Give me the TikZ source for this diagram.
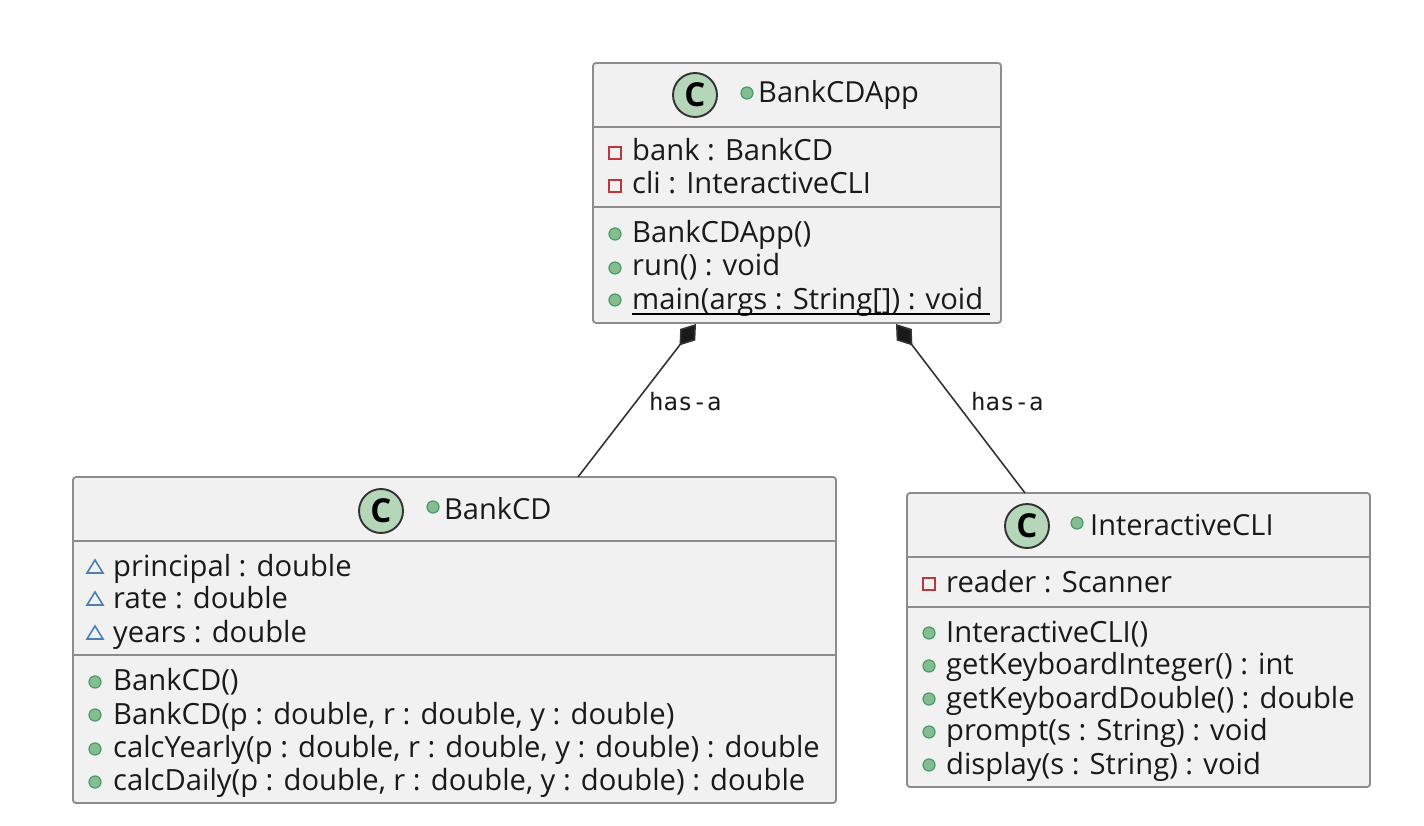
\documentclass[tikz,border=0pt]{standalone}
\usepackage{fontspec}
\setmainfont{Open Sans}
\newfontfamily\labelfont{DejaVu Sans Mono}
\usetikzlibrary{arrows.meta,calc}
\definecolor{boxbg}{HTML}{F1F1F1}
\definecolor{boxln}{HTML}{8C8C8C}
\definecolor{ink}{HTML}{1A1A1A}
\definecolor{badgefill}{HTML}{B5D6B8}
\definecolor{dotln}{HTML}{4C9A68}
\definecolor{dotfill}{HTML}{84BE90}
\definecolor{privred}{HTML}{C0353A}
\definecolor{pkgblue}{HTML}{4A7FB5}
\tikzset{
  classbox/.style={draw=boxln,line width=1.8pt,fill=boxbg,rounded corners=3pt,anchor=north west,inner sep=0pt,outer sep=0pt,minimum width=#1},
  sepline/.style={draw=boxln,line width=1.6pt},
  member/.style={anchor=base west,inner sep=0pt,text=ink,font=\fontsize{29.2}{29.2}\selectfont},
  title/.style={anchor=base west,inner sep=0pt,text=ink,font=\fontsize{29}{29}\selectfont},
  edgelabel/.style={anchor=base west,inner sep=0pt,text=ink,font=\labelfont\fontsize{24}{24}\selectfont},
  cbadge/.style={circle,draw=black!80,line width=1.9pt,fill=badgefill,minimum size=44pt,inner sep=0pt,text=black,font=\fontsize{33}{33}\selectfont\bfseries},
  pubdot/.style={circle,draw=dotln,line width=1.2pt,fill=dotfill,minimum size=12pt,inner sep=0pt},
  privsq/.style={rectangle,draw=privred,line width=1.6pt,fill=none,minimum size=12pt,inner sep=0pt},
  pkgtri/.style={draw=pkgblue,line width=1.6pt,line join=miter},
  compose/.style={draw=black!80,line width=1.6pt,{Diamond[length=27pt,width=19pt,fill=black!90]}-},
}
\newcommand{\triat}[2]{\draw[pkgtri] (#1-8,#2+6) -- (#1+8,#2+6) -- (#1,#2-7) -- cycle;}
\begin{document}
\begin{tikzpicture}[x=1pt,y=-1pt]
\useasboundingbox (0,0) rectangle (1424,826);
% boxes
\node[classbox=408pt,minimum height=260pt] (app) at (593,63) {};
\node[classbox=763pt,minimum height=326pt] (cd) at (73,477) {};
\node[classbox=463pt,minimum height=294pt] (cli) at (907,493) {};
% separators
\draw[sepline] (593,127) -- (1001,127) (593,207) -- (1001,207);
\draw[sepline] (73,541) -- (836,541) (73,655) -- (836,655);
\draw[sepline] (907,557) -- (1370,557) (907,607) -- (1370,607);
% connectors
\draw[compose] ($(app.south west)+(103,1)$) -- ($(cd.north west)+(505,0)$);
\draw[compose] ($(app.south west)+(303,1)$) -- ($(cli.north west)+(118,0)$);
\node[edgelabel] (la) at (649,410) {has-a};
\node[edgelabel] (lb) at (971,410) {has-a};
% BankCDApp
\node[cbadge] (c1) at (695,95) {C};
\node[pubdot] (t1) at (747,93) {};
\node[title] (n1) at (758,103) {BankCDApp};
\node[privsq] (m1a) at (615,153) {};
\node[member] (x1a) at (632,161) {bank : BankCD};
\node[privsq] (m1b) at (615,186) {};
\node[member] (x1b) at (632,194) {cli : InteractiveCLI};
\node[pubdot] (m1c) at (615,234) {};
\node[member] (x1c) at (632,243) {BankCDApp()};
\node[pubdot] (m1d) at (615,268) {};
\node[member] (x1d) at (632,276) {run() : void};
\node[pubdot] (m1e) at (615,300) {};
\node[member] (x1e) at (632,309) {main(args : String[]) : void};
\draw[black,line width=1.6pt] (632,314) -- (990,314);
% BankCD
\node[cbadge] (c2) at (381,511) {C};
\node[pubdot] (t2) at (433,507) {};
\node[title] (n2) at (444,519) {BankCD};
\triat{95}{567}
\node[member] (x2a) at (113,576) {principal : double};
\triat{95}{599}
\node[member] (x2b) at (113,608) {rate : double};
\triat{95}{633}
\node[member] (x2c) at (113,642) {years : double};
\node[pubdot] (m2d) at (95,682) {};
\node[member] (x2d) at (113,690) {BankCD()};
\node[pubdot] (m2e) at (95,715) {};
\node[member] (x2e) at (113,724) {BankCD(p : double, r : double, y : double)};
\node[pubdot] (m2f) at (95,749) {};
\node[member] (x2f) at (113,757) {calcYearly(p : double, r : double, y : double) : double};
\node[pubdot] (m2g) at (95,782) {};
\node[member] (x2g) at (113,790) {calcDaily(p : double, r : double, y : double) : double};
% InteractiveCLI
\node[cbadge] (c3) at (1027,526) {C};
\node[pubdot] (t3) at (1077,523) {};
\node[title] (n3) at (1090,535) {InteractiveCLI};
\node[privsq] (m3a) at (929,584) {};
\node[member] (x3a) at (946,592) {reader : Scanner};
\node[pubdot] (m3b) at (929,633) {};
\node[member] (x3b) at (946,642) {InteractiveCLI()};
\node[pubdot] (m3c) at (929,666) {};
\node[member] (x3c) at (946,674) {getKeyboardInteger() : int};
\node[pubdot] (m3d) at (929,699) {};
\node[member] (x3d) at (946,708) {getKeyboardDouble() : double};
\node[pubdot] (m3e) at (929,732) {};
\node[member] (x3e) at (946,740) {prompt(s : String) : void};
\node[pubdot] (m3f) at (929,765) {};
\node[member] (x3f) at (946,774) {display(s : String) : void};
\end{tikzpicture}
\end{document}
